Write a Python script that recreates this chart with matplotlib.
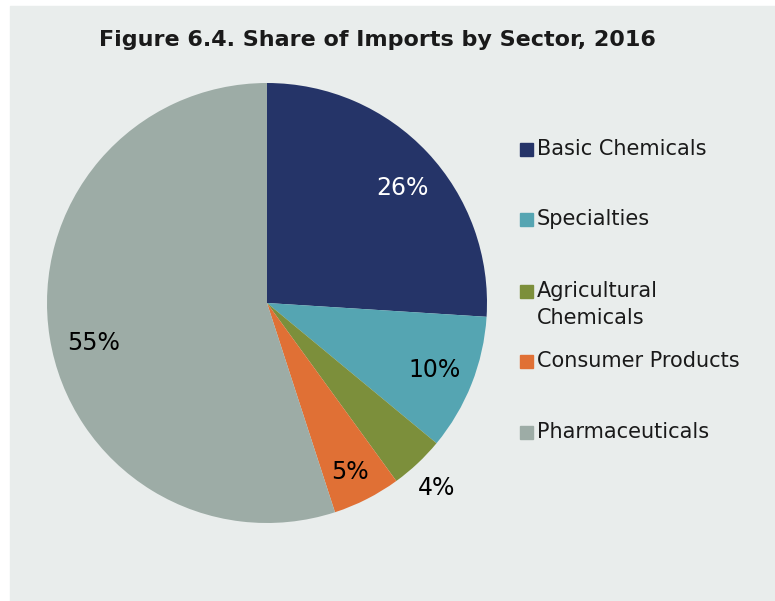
import matplotlib
matplotlib.use("Agg")
import numpy as np
import matplotlib.pyplot as plt
from matplotlib.patches import Rectangle

plt.rcParams['font.family'] = ['DejaVu Sans']

sectors = ["Basic Chemicals", "Specialties", "Agricultural\nChemicals",
           "Consumer Products", "Pharmaceuticals"]
shares = [26, 10, 4, 5, 55]
pct_labels = ["26%", "10%", "4%", "5%", "55%"]
colors = ["#253468", "#55a5b2", "#7c8f3b", "#e07035", "#9daca6"]
label_colors = ["white", "black", "black", "black", "black"]
# (radius, nudge in degrees from wedge middle) for each value label
label_place = [(0.81, -2.8), (0.82, -0.3), (1.14, -0.6), (0.855, -0.8), (0.81, 4.0)]

W, H = 775, 601
fig = plt.figure(figsize=(W / 100, H / 100), dpi=100)
fig.patch.set_facecolor("white")
# grey panel behind everything
fig.patches.append(Rectangle((10 / W, 0), 1 - 10 / W, 1 - 6 / H,
                             transform=fig.transFigure, color="#e9edec", zorder=-5))

fig.text(377 / W, 1 - 40 / H, "Figure 6.4. Share of Imports by Sector, 2016",
         ha="center", va="center", fontsize=16, fontweight="bold", color="#1a1a1a")

cx, cy, r = 267, 303, 220
ax = fig.add_axes([(cx - r) / W, 1 - (cy + r) / H, 2 * r / W, 2 * r / H])
ax.set_zorder(1)
ax.patch.set_visible(False)
wedges, _ = ax.pie(shares, colors=colors, startangle=90, counterclock=False,
                   radius=1.0, wedgeprops=dict(linewidth=0))
ax.set_xlim(-1, 1)
ax.set_ylim(-1, 1)
ax.set_aspect("equal")

start = 90.0
for val, txt, col, (d, nudge) in zip(shares, pct_labels, label_colors, label_place):
    mid = np.deg2rad(start - val * 3.6 / 2 + nudge)
    ax.text(d * np.cos(mid), d * np.sin(mid), txt, ha="center", va="center",
            fontsize=17, color=col)
    start -= val * 3.6

# legend
leg_y = [149.5, 219.5, 291.5, 361.5, 432.5]
for name, col, y in zip(sectors, colors, leg_y):
    fig.patches.append(Rectangle((520 / W, 1 - (y + 6.5) / H), 13 / W, 13 / H,
                                 transform=fig.transFigure, color=col, zorder=2))
    fig.text(537 / W, 1 - (y - 10.5) / H, name, ha="left", va="top",
             fontsize=15, color="#1a1a1a", linespacing=1.45, zorder=3)

fig.savefig("out.png", dpi=100, facecolor=fig.get_facecolor())
